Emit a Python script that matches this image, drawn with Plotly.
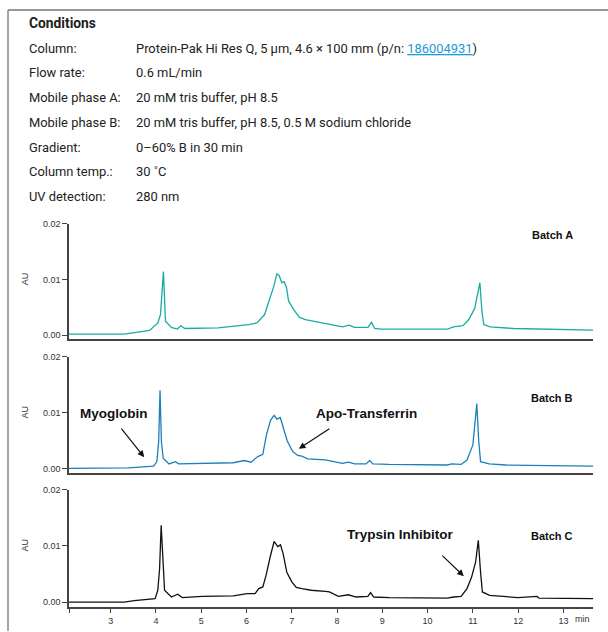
import plotly.graph_objects as go

W, H = 608, 632

# retention time (min) / absorbance (AU)
time_a = [2.08, 3.30, 3.86, 4.04, 4.10, 4.165, 4.21, 4.34, 4.47, 4.55, 4.64, 5.37, 6.05, 6.23, 6.40,
          6.51, 6.60, 6.67, 6.72, 6.78, 6.83, 6.88, 6.93, 7.05, 7.17, 7.30, 7.43, 7.82, 8.12, 8.27,
          8.38, 8.68, 8.76, 8.83, 8.97, 10.44, 10.57, 10.78, 10.91, 11.04, 11.09, 11.155, 11.20,
          11.24, 11.38, 11.90, 13.66]
au_a = [0.0002, 0.0002, 0.00085, 0.0022, 0.0037, 0.0114, 0.0025, 0.0014, 0.0011, 0.0017, 0.0012,
        0.0013, 0.0019, 0.0022, 0.0037, 0.0063, 0.0087, 0.0110, 0.0107, 0.0094, 0.0096, 0.0087,
        0.0061, 0.0045, 0.0032, 0.0028, 0.0026, 0.0020, 0.0015, 0.0018, 0.0014, 0.0014, 0.0023,
        0.0012, 0.0011, 0.0011, 0.0015, 0.0017, 0.0028, 0.0048, 0.0067, 0.0094, 0.0043, 0.0019,
        0.0015, 0.0012, 0.0009]

time_b = [2.08, 3.39, 3.95, 4.02, 4.06, 4.09, 4.12, 4.16, 4.29, 4.43, 4.50, 5.71, 5.95, 6.10, 6.25,
          6.36, 6.44, 6.53, 6.61, 6.67, 6.745, 6.81, 6.90, 7.02, 7.13, 7.22, 7.35, 7.74, 7.95, 8.12,
          8.25, 8.39, 8.64, 8.72, 8.79, 9.15, 10.44, 10.53, 10.74, 10.87, 11.00, 11.087, 11.13,
          11.17, 11.36, 11.73, 13.66]
au_b = [0.0000, 0.0001, 0.0004, 0.0012, 0.0048, 0.0140, 0.0048, 0.0018, 0.0008, 0.0012, 0.0008,
        0.0010, 0.0014, 0.0011, 0.0021, 0.0025, 0.0060, 0.0086, 0.0095, 0.0088, 0.0091, 0.0075,
        0.0049, 0.0030, 0.0023, 0.0022, 0.0017, 0.0015, 0.0011, 0.0009, 0.0011, 0.0008, 0.0008,
        0.0014, 0.0008, 0.0007, 0.0006, 0.0008, 0.0007, 0.0015, 0.0042, 0.0116, 0.0048, 0.0012,
        0.0008, 0.0006, 0.0004]

time_c = [2.08, 3.30, 3.52, 3.78, 3.98, 4.04, 4.08, 4.115, 4.15, 4.19, 4.34, 4.48, 4.58, 5.02, 5.71,
          6.01, 6.19, 6.27, 6.36, 6.43, 6.53, 6.61, 6.69, 6.75, 6.81, 6.89, 7.00, 7.10, 7.22, 7.43,
          7.74, 7.83, 8.03, 8.25, 8.42, 8.68, 8.74, 8.81, 9.15, 10.44, 10.57, 10.74, 10.87, 10.97,
          11.06, 11.12, 11.17, 11.21, 11.37, 11.99, 12.42, 12.46, 13.66]
au_c = [0.0000, 0.0000, 0.00025, 0.0004, 0.0006, 0.0021, 0.0059, 0.0137, 0.0071, 0.0021, 0.0009,
        0.0014, 0.0008, 0.0010, 0.0011, 0.0015, 0.0015, 0.0024, 0.0027, 0.0047, 0.0083, 0.0108,
        0.0099, 0.0102, 0.0086, 0.0053, 0.0036, 0.0026, 0.0024, 0.0021, 0.0019, 0.0018, 0.0010,
        0.0013, 0.0009, 0.0010, 0.0017, 0.0009, 0.0008, 0.0007, 0.0009, 0.0010, 0.0024, 0.0044,
        0.0071, 0.0110, 0.0053, 0.0018, 0.0012, 0.0008, 0.0010, 0.0007, 0.0006]

batches = ["Batch A", "Batch B", "Batch C"]
colors = ["#19aba5", "#1c80b8", "#111111"]

x_ticks = [3, 4, 5, 6, 7, 8, 9, 10, 11, 12, 13]
y_ticks = [0, 0.01, 0.02]
y_labels = ["0.00", "0.01", "0.02"]

conditions = [
    ("Column:", "Protein-Pak Hi Res Q, 5 µm, 4.6 × 100 mm (p/n: "
     "<span style='color:#1a9ad6;text-decoration:underline'>186004931</span>)"),
    ("Flow rate:", "0.6 mL/min"),
    ("Mobile phase A:", "20 mM tris buffer, pH 8.5"),
    ("Mobile phase B:", "20 mM tris buffer, pH 8.5, 0.5 M sodium chloride"),
    ("Gradient:", "0–60% B in 30 min"),
    ("Column temp.:", "30 ˚C"),
    ("UV detection:", "280 nm"),
]


def px(x):
    return x / W


def py(y):
    return 1 - y / H


XR = [2.079, 13.66]
# panel pixel extents (top, bottom) and the lower end of each y range
panels = [(220.7, 337.3, -0.0007), (355.0, 472.3, -0.0008), (489.5, 607.3, -0.0008)]

fig = go.Figure()
for i, (t, a) in enumerate([(time_a, au_a), (time_b, au_b), (time_c, au_c)]):
    n = "" if i == 0 else str(i + 1)
    fig.add_trace(go.Scatter(x=t, y=a, mode="lines", xaxis="x" + n, yaxis="y" + n,
                             line=dict(color=colors[i], width=1.3), showlegend=False))

font_ax = dict(family="Liberation Sans, Arial", size=9, color="#333")
layout = dict(width=W, height=H, margin=dict(l=0, r=0, t=0, b=0),
              paper_bgcolor="white", plot_bgcolor="white")
for i, (top, bot, ylo) in enumerate(panels):
    n = "" if i == 0 else str(i + 1)
    last = i == 2
    layout["xaxis" + n] = dict(
        domain=[px(69), px(593.3)], range=XR, anchor="y" + n,
        showline=True, linecolor="#444", linewidth=1.5, showgrid=False, zeroline=False,
        ticks="outside" if last else "", ticklen=5, tickcolor="#444", tickwidth=1,
        tickvals=[XR[0]] + x_ticks if last else [],
        ticktext=[""] + [str(v) for v in x_ticks] if last else [],
        showticklabels=last, tickfont=font_ax,
    )
    layout["yaxis" + n] = dict(
        domain=[py(bot), py(top)], range=[ylo, 0.02], anchor="x" + n,
        showline=True, linecolor="#444", linewidth=1.5, showgrid=False, zeroline=False,
        ticks="outside", ticklen=5, tickcolor="#444", tickwidth=1,
        tickvals=y_ticks, ticktext=y_labels, tickfont=font_ax,
    )
fig.update_layout(**layout)


def note(x, y, text, font, xanchor="center", **kw):
    return dict(x=px(x), y=py(y), xref="paper", yref="paper", xanchor=xanchor, yanchor="middle",
                text=text, showarrow=False, font=font, **kw)


ann = []
cond_font = dict(family="Roboto", size=12.9, color="#222")
ann.append(note(27, 18.5, "<b>Conditions</b>", dict(family="Roboto", size=13.8, color="#222"), "left"))
for k, (lab, val) in enumerate(conditions):
    yy = 43.5 + k * 25
    ann.append(note(27, yy, lab, cond_font, "left"))
    ann.append(note(134, yy, val, cond_font, "left"))

batch_y = [232, 397, 536]
for i, b in enumerate(batches):
    ann.append(note(552, batch_y[i], "<b>%s</b>" % b,
                    dict(family="Liberation Sans, Arial", size=11, color="#111")))
    ann.append(note(25, panels[i][0] + 56.3, "AU",
                    dict(family="Liberation Sans, Arial", size=9, color="#333"), textangle=-90))

ann.append(note(573, 619.5, "min", font_ax, "left"))

lab_font = dict(family="Liberation Sans, Arial", size=13.5, color="#111")
peak_labels = [("Myoglobin", 114, 412, "x2", "y2", 3.74, 0.0020, -24, -30),
               ("Apo-Transferrin", 367, 412, "x2", "y2", 7.156, 0.0035, 32, -21),
               ("Trypsin Inhibitor", 400, 535, "x3", "y3", 10.80, 0.0046, -23, -22)]
for txt, tx, ty, xr, yr, ax_, ay_, dx, dy in peak_labels:
    ann.append(note(tx, ty, "<b>%s</b>" % txt, lab_font))
    ann.append(dict(x=ax_, y=ay_, xref=xr, yref=yr, text="", showarrow=True, ax=dx, ay=dy,
                    arrowhead=2, arrowsize=1.1, arrowwidth=1.2, arrowcolor="#111"))
fig.update_layout(annotations=ann)

# outer frame (left and top edges)
fig.add_shape(type="line", xref="paper", yref="paper", x0=px(8), x1=px(8), y0=py(5), y1=0,
              line=dict(color="#888", width=1.5))
fig.add_shape(type="line", xref="paper", yref="paper", x0=px(8), x1=1, y0=py(5), y1=py(5),
              line=dict(color="#777", width=1.5))

# page body margin would otherwise push the 608x632 figure off the window
fig.write_html("out.html", config={"displayModeBar": False},
               post_script="document.body.style.margin='0';")
